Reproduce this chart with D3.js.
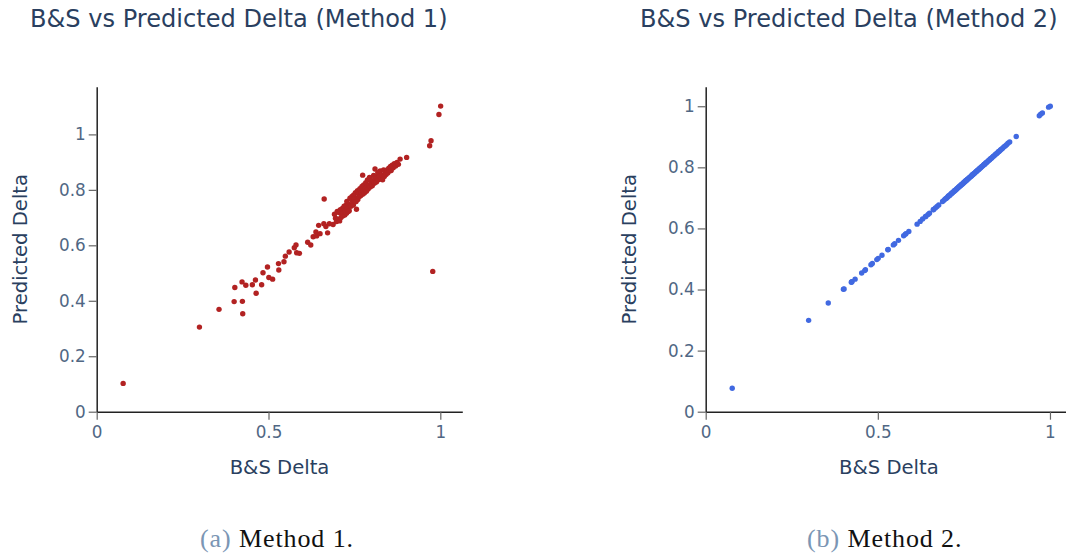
<!DOCTYPE html>
<html>
<head>
<meta charset="utf-8">
<script src="https://cdn.jsdelivr.net/npm/d3@7"></script>
<style>
  body { margin: 0; background: #fff; }
  svg { display: block; }
</style>
</head>
<body>
<svg id="chart" width="1066" height="556"></svg>
<script>
// B&S delta of the test options (shared by both panels)
var bsDelta = [0.077,0.299,0.356,0.400,0.402,0.423,0.424,0.425,0.434,0.453,0.462,0.464,0.480,0.484,0.497,0.501,0.512,0.529,0.530,0.545,
  0.549,0.560,0.575,0.580,0.582,0.590,0.614,0.623,0.630,0.638,0.640,0.646,0.650,0.662,0.661,0.667,0.672,0.677,0.688,
  0.692,0.695,0.698,0.700,0.703,0.705,0.707,0.709,0.711,0.713,0.715,0.716,0.718,0.720,0.722,0.723,0.725,0.727,0.728,0.730,
  0.732,0.733,0.735,0.737,0.738,0.740,0.742,0.743,0.745,0.747,0.748,0.750,0.752,0.753,0.755,0.757,0.759,0.760,0.762,0.764,
  0.766,0.768,0.770,0.772,0.774,0.776,0.777,0.779,0.781,0.783,0.785,0.787,0.788,0.790,0.792,0.794,0.796,0.798,0.800,0.802,
  0.804,0.806,0.808,0.810,0.812,0.814,0.816,0.818,0.820,0.823,0.825,0.827,0.830,0.832,0.835,0.837,0.840,0.842,0.845,0.847,
  0.850,0.852,0.855,0.857,0.860,0.863,0.866,0.870,0.874,0.878,
  0.756,0.774,0.810,0.883,0.902,0.969,0.973,0.996,1.001,0.978];

// Method 1 predictions
var predM1 = [0.102,0.305,0.369,0.397,0.448,0.468,0.398,0.353,0.456,0.458,0.475,0.427,0.458,0.501,0.522,0.484,0.478,0.534,0.511,0.541,
  0.561,0.576,0.591,0.601,0.573,0.571,0.611,0.601,0.631,0.648,0.634,0.672,0.642,0.767,0.678,0.668,0.645,0.678,0.675,
  0.712,0.698,0.686,0.722,0.694,0.718,0.688,0.728,0.700,0.712,0.733,0.706,0.716,0.741,0.709,0.721,0.744,0.716,0.758,0.731,
  0.722,0.748,0.725,0.770,0.745,0.741,0.764,0.776,0.751,0.745,0.782,0.768,0.757,0.790,0.758,0.770,0.797,0.765,0.786,0.776,
  0.804,0.779,0.790,0.812,0.784,0.797,0.818,0.789,0.803,0.826,0.795,0.810,0.836,0.803,0.817,0.845,0.810,0.824,0.828,0.815,
  0.833,0.852,0.824,0.840,0.846,0.828,0.842,0.862,0.836,0.848,0.868,0.840,0.853,0.836,0.872,0.848,0.863,0.855,0.872,0.861,
  0.878,0.868,0.884,0.870,0.889,0.880,0.894,0.886,0.899,0.892,
  0.730,0.853,0.875,0.911,0.917,0.959,0.977,1.072,1.102,0.506];

// Method 2 predictions
var predM2 = [0.077,0.299,0.356,0.401,0.402,0.424,0.425,0.426,0.434,0.454,0.462,0.465,0.481,0.485,0.498,0.502,0.512,0.530,0.531,0.546,
  0.550,0.561,0.576,0.581,0.583,0.590,0.614,0.623,0.631,0.638,0.640,0.646,0.650,0.662,0.661,0.667,0.672,0.677,0.688,
  0.692,0.696,0.698,0.700,0.703,0.706,0.707,0.709,0.711,0.714,0.715,0.716,0.719,0.720,0.722,0.724,0.725,0.727,0.728,0.731,
  0.732,0.733,0.736,0.737,0.739,0.740,0.742,0.744,0.745,0.747,0.748,0.751,0.752,0.753,0.756,0.757,0.759,0.761,0.762,0.764,
  0.767,0.768,0.770,0.772,0.775,0.776,0.777,0.780,0.781,0.783,0.786,0.787,0.788,0.791,0.792,0.794,0.797,0.798,0.800,0.803,
  0.804,0.806,0.809,0.810,0.812,0.815,0.816,0.818,0.821,0.823,0.825,0.828,0.830,0.832,0.836,0.837,0.840,0.843,0.845,0.847,
  0.851,0.852,0.855,0.858,0.860,0.863,0.867,0.870,0.874,0.879,
  0.756,0.775,0.810,0.883,0.901,0.969,0.974,0.997,1.000,0.978];

var xTicks = [0, 0.5, 1];
var yTicks = [0, 0.2, 0.4, 0.6, 0.8, 1];

var panels = [
  { title: "B&S vs Predicted Delta (Method 1)", tx: 30, pred: predM1, color: "#b22222",
    left: 96.7, right: 462.3, xMax: 1.064, yMax: 1.172, tag: "(a)", cap: " Method 1.", cx: 200 },
  { title: "B&S vs Predicted Delta (Method 2)", tx: 640, pred: predM2, color: "#4169e1",
    left: 705.7, right: 1072, xMax: 1.064, yMax: 1.064, tag: "(b)", cap: " Method 2.", cx: 807 }
];

var plotTop = 86.7, plotBottom = 411.7;
var svg = d3.select("#chart");
svg.append("rect").attr("width", 1066).attr("height", 556).style("fill", "#fff");

var font = "'DejaVu Sans', Verdana, sans-serif";

panels.forEach(function(p) {
  var xScale = d3.scaleLinear().domain([0, p.xMax]).range([p.left, p.right]);
  var yScale = d3.scaleLinear().domain([0, p.yMax]).range([plotBottom, plotTop]);

  var g = svg.append("g");

  var xAxis = d3.axisBottom(xScale).tickValues(xTicks).tickFormat(d3.format("~g"))
    .tickSizeInner(8).tickSizeOuter(0).tickPadding(6);
  var yAxis = d3.axisLeft(yScale).tickValues(yTicks).tickFormat(d3.format("~g"))
    .tickSizeInner(8).tickSizeOuter(0).tickPadding(3);

  var gx = g.append("g").attr("transform", "translate(0," + plotBottom + ")").call(xAxis);
  var gy = g.append("g").attr("transform", "translate(" + p.left + ",0)").call(yAxis);

  [gx, gy].forEach(function(ax) {
    ax.select(".domain").style("stroke", "#222").style("stroke-width", "1.5px");
    ax.selectAll(".tick line").style("stroke", "#666").style("stroke-width", "1.2px");
    ax.selectAll(".tick text").style("fill", "#506784").style("font-family", font).style("font-size", "16.8px");
  });

  // points
  g.append("g").selectAll("circle")
    .data(bsDelta)
    .enter()
    .append("circle")
    .attr("cx", function(d) { return xScale(d); })
    .attr("cy", function(d, i) { return yScale(p.pred[i]); })
    .attr("r", 2.7)
    .style("fill", p.color);

  // title
  svg.append("text")
    .attr("x", p.tx).attr("y", 27)
    .style("font-family", font).style("font-size", "24.1px").style("fill", "#2a3f5f")
    .text(p.title);

  // axis titles
  svg.append("text")
    .attr("x", (p.left + p.right) / 2).attr("y", 474)
    .attr("text-anchor", "middle")
    .style("font-family", font).style("font-size", "19.6px").style("fill", "#2a3f5f")
    .text("B&S Delta");

  svg.append("text")
    .attr("transform", "translate(" + (p.left - 70) + "," + ((plotTop + plotBottom) / 2) + ") rotate(-90)")
    .attr("text-anchor", "middle")
    .style("font-family", font).style("font-size", "19.6px").style("fill", "#2a3f5f")
    .text("Predicted Delta");

  // caption
  var cap = svg.append("text")
    .attr("x", p.cx).attr("y", 547)
    .style("font-family", "'Liberation Serif', 'Times New Roman', serif").style("font-size", "26px")
    .style("letter-spacing", "0.9px");
  cap.append("tspan").style("fill", "#7b96b4").text(p.tag);
  cap.append("tspan").style("fill", "#111").text(p.cap);
});
</script>
</body>
</html>
